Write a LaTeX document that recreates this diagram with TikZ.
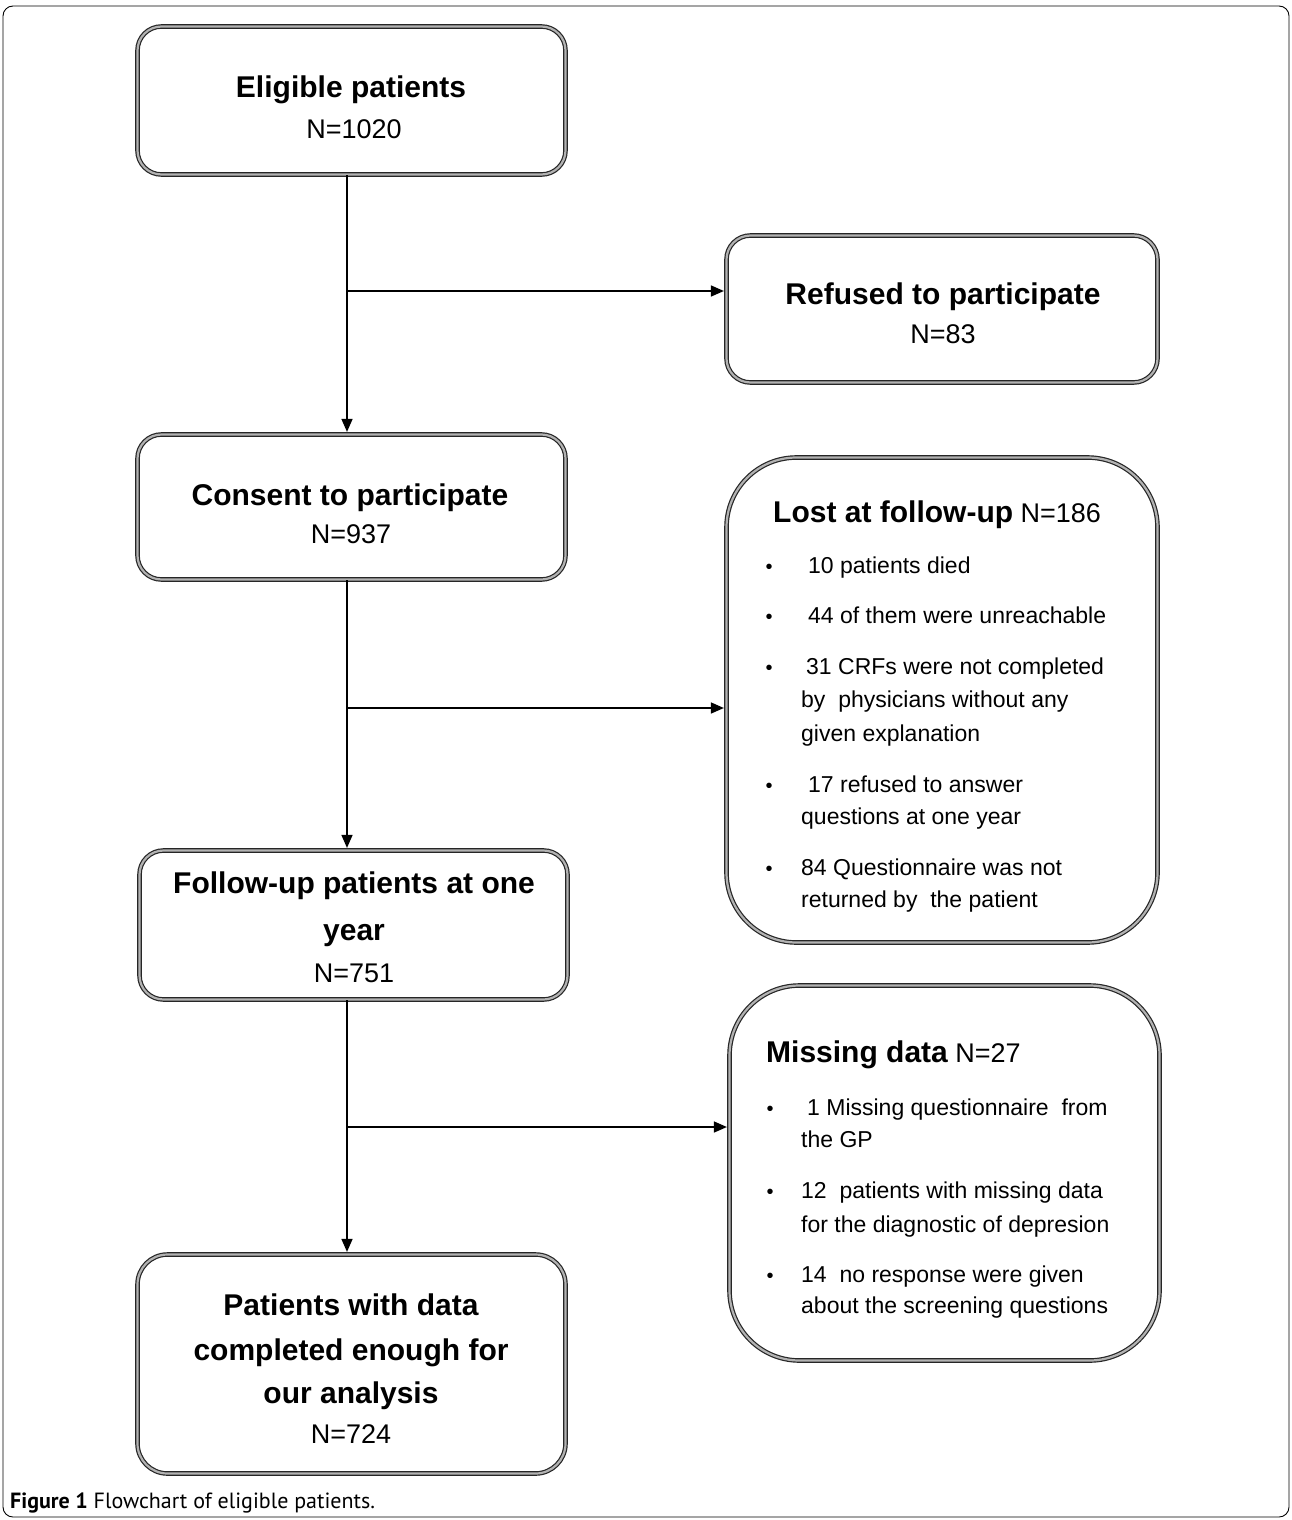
\documentclass[tikz,border=0pt]{standalone}
\usepackage{fontspec}
\setmainfont{Liberation Sans}
\newfontfamily\capfont{PT Sans}
\usetikzlibrary{arrows.meta}
\begin{document}
\begin{tikzpicture}[x=1pt,y=-1pt,
  box/.style={draw=black!85, double=gray!60, double distance=2.2pt, line width=1.2pt,
              rounded corners=#1, inner sep=0pt},
  box/.default=24pt,
  hd/.style={font=\fontsize{30}{36}\selectfont\bfseries, anchor=base, inner sep=0pt},
  nn/.style={font=\fontsize{27}{32}\selectfont, anchor=base, inner sep=0pt},
  bl/.style={font=\fontsize{23}{30}\selectfont, anchor=base west, inner sep=0pt},
  dot/.style={font=\fontsize{20}{24}\selectfont, anchor=base, inner sep=0pt},
  flow/.style={line width=1.5pt, -{Triangle[length=13pt,width=11pt]}, shorten >=2pt},
  link/.style={line width=1.5pt}
]
\useasboundingbox (0,0) rectangle (1292,1520);
% outer frame
\draw[line width=0.9pt, rounded corners=10pt] (3,6) rectangle (1289,1517);

% boxes
\node[box, minimum width=428pt, minimum height=148pt] (b1) at (351.5,100.5) {};
\node[box, minimum width=431pt, minimum height=147pt] (b2) at (942,309) {};
\node[box, minimum width=428pt, minimum height=145pt] (b3) at (351.5,507) {};
\node[box=70pt, minimum width=431pt, minimum height=485pt] (b4) at (942,700) {};
\node[box, minimum width=428pt, minimum height=149pt] (b5) at (353.5,925) {};
\node[box=70pt, minimum width=430pt, minimum height=375pt] (b6) at (944.5,1173) {};
\node[box=30pt, minimum width=428pt, minimum height=219pt] (b7) at (351.5,1364) {};

% main box texts
\node[hd] (t1a) at (351,97) {Eligible patients};
\node[nn] (t1b) at (354,138) {N=1020};
\node[hd] (t2a) at (943,304) {Refused to participate};
\node[nn] (t2b) at (943,343) {N=83};
\node[hd] (t3a) at (350,505) {Consent to participate};
\node[nn] (t3b) at (351,543) {N=937};
\node[hd] (t5a) at (354,893) {Follow-up patients at one};
\node[hd] (t5b) at (354,940) {year};
\node[nn] (t5c) at (354,982) {N=751};
\node[hd] (t7a) at (351,1315) {Patients with data};
\node[hd] (t7b) at (351,1360) {completed enough for};
\node[hd] (t7c) at (351,1403) {our analysis};
\node[nn] (t7d) at (351,1443) {N=724};

% lost at follow-up
\node[anchor=base west, inner sep=0pt] (h4) at (773,522)
  {{\fontsize{30}{36}\selectfont\bfseries Lost at follow-up}\fontsize{27}{32}\selectfont\ N=186};
\node[dot] (d41) at (769,573) {•};
\node[bl] (l41) at (808,573) {10 patients died};
\node[dot] (d42) at (769,623) {•};
\node[bl] (l42) at (808,623) {44 of them were unreachable};
\node[dot] (d43) at (769,674) {•};
\node[bl] (l43) at (806,674) {31 CRFs were not completed};
\node[bl] (l44) at (801,707) {by\ \ physicians without any};
\node[bl] (l45) at (801,741) {given explanation};
\node[dot] (d44) at (769,792) {•};
\node[bl] (l46) at (808,792) {17 refused to answer};
\node[bl] (l47) at (801,824) {questions at one year};
\node[dot] (d45) at (769,875) {•};
\node[bl] (l48) at (801,875) {84 Questionnaire was not};
\node[bl] (l49) at (801,907) {returned by\ \ the patient};

% missing data
\node[anchor=base west, inner sep=0pt] (h6) at (766,1062)
  {{\fontsize{30}{36}\selectfont\bfseries Missing data}\fontsize{27}{32}\selectfont\ N=27};
\node[dot] (d61) at (770,1115) {•};
\node[bl] (l61) at (807,1115) {1 Missing questionnaire\ \ from};
\node[bl] (l62) at (801,1147) {the GP};
\node[dot] (d62) at (770,1198) {•};
\node[bl] (l63) at (801,1198) {12\ \ patients with missing data};
\node[bl] (l64) at (801,1232) {for the diagnostic of depresion};
\node[dot] (d63) at (770,1282) {•};
\node[bl] (l65) at (801,1282) {14\ \ no response were given};
\node[bl] (l66) at (801,1313) {about the screening questions};

% connectors
\coordinate (j1) at (347,291);
\coordinate (j2) at (347,708);
\coordinate (j3) at (347,1127);
\draw[flow] (b1.south -| j1) -- (b3.north -| j1);
\draw[flow] (j1) -- (j1 -| b2.west);
\draw[flow] (b3.south -| j2) -- (b5.north -| j2);
\draw[flow] (j2) -- (j2 -| b4.west);
\draw[flow] (b5.south -| j3) -- (b7.north -| j3);
\draw[flow] (j3) -- (j3 -| b6.west);

% caption
\node[anchor=base west, inner sep=0pt, font=\capfont\fontsize{22}{26}\selectfont] (cap) at (10,1508)
  {\textbf{Figure 1} Flowchart of eligible patients.};
\end{tikzpicture}
\end{document}
